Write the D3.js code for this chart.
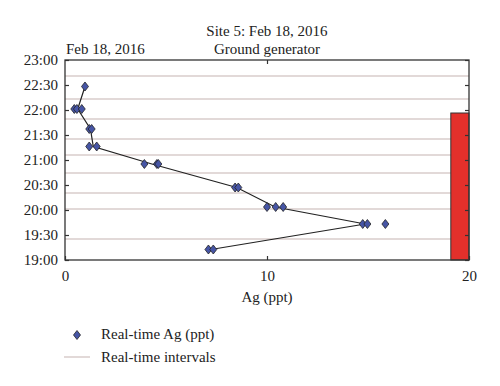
<!DOCTYPE html>
<html>
<head>
<meta charset="utf-8" />
<script src="https://cdn.jsdelivr.net/npm/d3@7"></script>
<style>
html, body { margin: 0; padding: 0; background: #fff; }
svg { display: block; }
text { font-family: "Liberation Serif", "DejaVu Serif", serif; fill: #222; }
.grid { stroke: #d9cccb; stroke-width: 1.5; }
.frame { fill: none; stroke: #333; stroke-width: 1.3; }
.link { fill: none; stroke: #222; stroke-width: 1.2; }
.pt { fill: #4655a5; stroke: #222; stroke-width: 0.8; }
</style>
</head>
<body>
<div id="chart"></div>
<script>
// Ag readings (ppt) and their times (decimal hours)
var agValues = [0.99, 0.46, 0.59, 0.83, 1.2, 1.32, 1.2, 1.57, 3.93, 4.55, 4.62,
                8.42, 8.58, 10.0, 10.43, 10.8, 14.74, 14.97, 15.86, 7.1, 7.34];
var agTimes  = [22.47, 22.02, 22.02, 22.02, 21.62, 21.62, 21.27, 21.27, 20.92, 20.92, 20.92,
                20.45, 20.45, 20.06, 20.06, 20.06, 19.72, 19.72, 19.72, 19.21, 19.21];
// line through the mean of each reading group
var lineAg    = [0.99, 0.63, 1.26, 1.4, 4.3, 8.5, 10.4, 14.86, 7.22];
var lineTimes = [22.47, 22.02, 21.62, 21.27, 20.92, 20.45, 20.06, 19.72, 19.21];
// real-time interval boundaries (decimal hours)
var intervals = [22.68, 22.22, 21.82, 21.42, 21.10, 20.74, 20.34, 20.02, 19.42];
// ground generator bar: [x0, x1] in ppt and end time
var genRange = [19.1, 20];
var genEnd = 21.94;
var xTicks = [0, 10, 20];
var yTicks = [19, 19.5, 20, 20.5, 21, 21.5, 22, 22.5, 23];

(function() {
var W = 500, H = 386;
var mLeft = 65, mRight = 469, mTop = 60, mBottom = 260;
var fs = 15;

var svg = d3.select('#chart').append('svg').attr('width', W).attr('height', H);

var x = d3.scaleLinear().domain([0, 20]).range([mLeft, mRight]);
var y = d3.scaleLinear().domain([19, 23]).range([mBottom, mTop]);

function hhmm(v) {
	var h = Math.floor(v), m = Math.round((v - h) * 60);
	return h + ':' + (m < 10 ? '0' : '') + m;
}

// interval lines
svg.selectAll('line.grid').data(intervals).enter().append('line')
	.attr('class', 'grid')
	.attr('x1', mLeft).attr('x2', mRight)
	.attr('y1', function(d) { return y(d); })
	.attr('y2', function(d) { return y(d); });

// generator bar
svg.append('rect')
	.attr('x', x(genRange[0])).attr('width', x(genRange[1]) - x(genRange[0]))
	.attr('y', y(genEnd)).attr('height', y(19) - y(genEnd))
	.attr('fill', '#e3302b').attr('stroke', '#333').attr('stroke-width', 1);

// axes (ticks inward)
var yAxisL = d3.axisLeft(y).tickValues(yTicks).tickSizeInner(-4).tickSizeOuter(0).tickPadding(7).tickFormat(hhmm);
var yAxisR = d3.axisRight(y).tickValues(yTicks).tickSizeInner(-4).tickSizeOuter(0).tickFormat('');
var xAxisB = d3.axisBottom(x).tickValues(xTicks).tickSizeInner(-4).tickSizeOuter(0).tickPadding(10).tickFormat(d3.format('d'));
var xAxisT = d3.axisTop(x).tickValues([10]).tickSizeInner(-4).tickSizeOuter(0).tickFormat('');

function styleAxis(g) {
	g.select('.domain').remove();
	g.selectAll('line').attr('stroke', '#333').attr('stroke-width', 1.2);
	g.selectAll('text').attr('font-size', fs).attr('fill', '#222')
		.attr('font-family', '"Liberation Serif", "DejaVu Serif", serif');
}
svg.append('g').attr('transform', 'translate(' + mLeft + ',0)').call(yAxisL).call(styleAxis);
svg.append('g').attr('transform', 'translate(' + mRight + ',0)').call(yAxisR).call(styleAxis);
svg.append('g').attr('transform', 'translate(0,' + mBottom + ')').call(xAxisB).call(styleAxis);
svg.append('g').attr('transform', 'translate(0,' + mTop + ')').call(xAxisT).call(styleAxis);

svg.append('rect').attr('class', 'frame')
	.attr('x', mLeft).attr('y', mTop).attr('width', mRight - mLeft).attr('height', mBottom - mTop);

// connecting line
var line = d3.line()
	.x(function(d, i) { return x(lineAg[i]); })
	.y(function(d, i) { return y(lineTimes[i]); });
svg.append('path').attr('class', 'link').attr('d', line(lineAg));

// diamonds
var diamond = d3.symbol().type(d3.symbolDiamond).size(34);
var squash = ' scale(1.12,0.83)';
svg.selectAll('path.pt').data(agValues).enter().append('path')
	.attr('class', 'pt')
	.attr('d', diamond)
	.attr('transform', function(d, i) { return 'translate(' + x(d) + ',' + y(agTimes[i]) + ')' + squash; });

// titles
svg.append('text').attr('x', (mLeft + mRight) / 2).attr('y', 36).attr('text-anchor', 'middle')
	.attr('font-size', fs).text('Site 5: Feb 18, 2016');
svg.append('text').attr('x', (mLeft + mRight) / 2).attr('y', 54).attr('text-anchor', 'middle')
	.attr('font-size', fs).text('Ground generator');
svg.append('text').attr('x', 66).attr('y', 54).attr('font-size', fs).text('Feb 18, 2016');
svg.append('text').attr('x', (mLeft + mRight) / 2).attr('y', 302).attr('text-anchor', 'middle')
	.attr('font-size', fs).text('Ag (ppt)');

// legend
svg.append('path').attr('class', 'pt').attr('d', diamond)
	.attr('transform', 'translate(77,335)' + squash);
svg.append('text').attr('x', 101).attr('y', 339).attr('font-size', fs).text('Real-time Ag (ppt)');
svg.append('line').attr('class', 'grid').attr('x1', 64).attr('x2', 90).attr('y1', 357).attr('y2', 357);
svg.append('text').attr('x', 101).attr('y', 362).attr('font-size', fs).text('Real-time intervals');
})();
</script>
</body>
</html>
